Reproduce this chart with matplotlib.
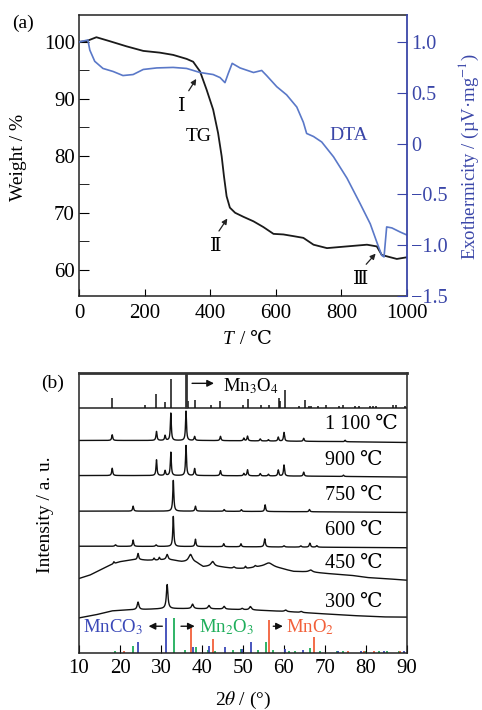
import numpy as np
import matplotlib
matplotlib.use('Agg')
import matplotlib.pyplot as plt
from matplotlib.ticker import MultipleLocator

plt.rcParams['font.family'] = ['Liberation Serif', 'DejaVu Serif', 'Noto Sans CJK SC']
plt.rcParams['mathtext.fontset'] = 'stix'

# ---------------- Panel (a) data: TG / DTA ----------------
tg_T = [0, 22, 53, 94, 145, 196, 246, 287, 328, 348, 369, 389, 409, 424, 435, 442,
        450, 460, 476, 501, 532, 562, 593, 623, 654, 684, 715, 756, 796, 837, 878,
        908, 923, 949, 969, 1000]
tg_w = [100.0, 100.1, 100.8, 100.1, 99.2, 98.4, 98.1, 97.7, 97.0, 96.5, 94.8, 91.6,
        88.1, 84.0, 79.9, 76.4, 72.9, 70.9, 70.0, 69.3, 68.5, 67.5, 66.3, 66.2, 65.9,
        65.6, 64.4, 63.8, 64.0, 64.2, 64.4, 64.1, 62.6, 62.2, 61.9, 62.2]

dta_T = [0, 27, 33, 48, 73, 104, 134, 165, 196, 237, 287, 328, 369, 409, 430, 445,
         455, 467, 491, 532, 557, 572, 603, 633, 664, 684, 694, 715, 740, 776, 817,
         857, 888, 908, 923, 930, 938, 954, 979, 1000]
dta_v = [1.0, 1.02, 0.92, 0.81, 0.74, 0.71, 0.67, 0.68, 0.73, 0.745, 0.75, 0.74,
         0.70, 0.68, 0.65, 0.60, 0.69, 0.79, 0.745, 0.70, 0.72, 0.67, 0.56, 0.48,
         0.36, 0.21, 0.10, 0.07, 0.016, -0.13, -0.34, -0.59, -0.79, -0.97, -1.10,
         -1.115, -0.82, -0.83, -0.87, -0.90]

a_xticks = [0, 200, 400, 600, 800, 1000]
a_wticks = [60, 70, 80, 90, 100]
a_dticks = [1.0, 0.5, 0.0, -0.5, -1.0, -1.5]
a_dlabels = ['1.0', '0.5', '0', '\u22120.5', '\u22121.0', '\u22121.5']

# ---------------- Panel (b) data: XRD ----------------
# Mn3O4 reference sticks (2theta, relative height)
mn3o4_pos = [18.1, 26.0, 28.9, 31.0, 32.4, 36.6, 38.2, 42.3, 44.5, 50.1, 51.1, 54.3,
             56.4, 58.7, 59.0, 60.3, 63.7, 65.2, 66.0, 66.6, 68.2, 70.3, 73.3, 74.5,
             77.4, 78.2, 80.9, 81.7, 82.5, 86.7, 87.4, 89.6]
mn3o4_h = [10, 3.3, 14.3, 6.3, 29, 7, 8.3, 3.3, 7.3, 3.3, 9, 3.3, 3, 10, 6.7, 17.7,
           2.3, 7.7, 2.3, 2.3, 2.3, 3, 2.3, 3, 2.3, 2.3, 2.3, 2.3, 2.3, 2.7, 2.7, 2.3]
mn3o4_main = 36.2

# Measured patterns: peaks (position, height, fwhm) and baseline knots
samples = ['1 100 \u2103', '900 \u2103', '750 \u2103', '600 \u2103', '450 \u2103', '300 \u2103']

p1100_peaks = [(18.1, 5.7, 0.3), (28.9, 9, 0.3), (31.0, 5, 0.3), (32.4, 27.3, 0.28),
               (36.1, 29.3, 0.28), (38.2, 4, 0.3), (44.5, 4.3, 0.3), (50.2, 2.7, 0.3),
               (51.1, 4.7, 0.3), (54.2, 2, 0.3), (56.2, 1.3, 0.3), (58.6, 4, 0.3),
               (60.0, 8.7, 0.3), (64.8, 3, 0.3), (74.9, 1.5, 0.3)]
p1100_base_x = [10, 40, 70, 90]
p1100_base_y = [0, 0, -1, -2]

p900_peaks = [(18.1, 7.3, 0.3), (28.9, 15.7, 0.28), (31.0, 5, 0.3), (32.4, 23.3, 0.28),
              (36.1, 30, 0.28), (38.2, 7, 0.3), (44.5, 5, 0.3), (50.2, 2.3, 0.3),
              (51.1, 6, 0.3), (54.2, 2.3, 0.3), (56.2, 1.7, 0.3), (58.6, 6, 0.3),
              (60.0, 11, 0.3), (64.8, 4, 0.3), (74.5, 1.3, 0.3)]
p900_base_x = [10, 40, 70, 90]
p900_base_y = [0, 0, -0.7, -1.5]

p750_peaks = [(23.2, 5, 0.3), (33.0, 30.7, 0.3), (38.4, 5, 0.3), (45.4, 1.7, 0.3),
              (49.6, 1.7, 0.3), (55.4, 6.7, 0.3), (66.2, 2.3, 0.3)]
p750_base_x = [10, 40, 70, 90]
p750_base_y = [0, 0, -0.7, -1.3]

p600_peaks = [(18.9, 1.5, 0.4), (23.2, 6.3, 0.3), (28.8, 1.5, 0.4), (33.0, 30, 0.3),
              (38.4, 7.3, 0.3), (45.3, 3.0, 0.3), (49.5, 3.0, 0.3), (55.3, 8, 0.35),
              (60.0, 1.2, 0.4), (64.1, 1.2, 0.4), (66.3, 4, 0.35), (68.0, 1.5, 0.4)]
p600_base_x = [10, 40, 70, 90]
p600_base_y = [0, -0.3, -1.0, -1.5]

p450_peaks = [(18.5, 2, 0.3), (24.4, 6, 0.35), (28.3, 2, 0.3), (29.6, 2.5, 0.3),
              (31.5, 5, 0.5), (37.2, 7.5, 1.1), (42.6, 4.5, 0.9), (47.8, 1.5, 0.6),
              (50.6, 2, 0.3), (53.0, 1.5, 0.5), (56.3, 4, 2.5), (66.5, 2, 1.0)]
p450_base_x = [10, 12.6, 15.1, 17.5, 19.9, 22.4, 24.4, 26.5, 28.9, 31.3, 33.0, 35.0,
               37.2, 38.7, 40.3, 42.3, 44.4, 47.6, 50.9, 54.2, 56.4, 59.0, 62.3, 66.4,
               70.4, 76.2, 80.2, 84.3, 90]
p450_base_y = [0, 3.3, 8.3, 13.3, 16.7, 18.3, 19, 18.3, 18.3, 19, 18.3, 16.7, 16.5,
               15.5, 11.7, 12.5, 11.7, 10, 10, 11.5, 11.5, 10, 7, 6.5, 5, 3.3, 1, 0, -1.7]

p300_peaks = [(24.4, 7.5, 0.5), (31.5, 24, 0.45), (37.7, 4.5, 0.55), (41.7, 3.3, 0.55),
              (45.4, 2.7, 0.5), (49.8, 1.2, 0.5), (51.8, 3.3, 0.6), (60.4, 1.5, 0.6),
              (64.2, 1.0, 0.6)]
p300_base_x = [10, 14, 18, 22, 26, 31, 36, 44, 52, 60, 68, 76, 84, 90]
p300_base_y = [0, 3, 7, 8, 8.5, 9.3, 9.3, 9, 8, 6.5, 4.5, 2.5, 1, 0.8]

# Reference sticks at the bottom
mnco3_pos = [24.3, 31.3, 37.9, 41.7, 45.6, 49.8, 51.9, 60.3, 64.6, 73.1, 78.8, 84.3, 89.2]
mnco3_h = [11, 35, 6, 6.7, 6, 4.3, 11, 4, 2.7, 2, 1.7, 2, 1.7]
mn2o3_pos = [18.7, 23.2, 33.1, 35.8, 38.5, 41.4, 43.2, 47.6, 49.4, 53.7, 55.5, 57.4,
             61.1, 62.7, 66.4, 68.8, 72.9, 74.5, 79.8, 83.1, 85.1, 88.0]
mn2o3_h = [2, 6.7, 35, 2.7, 6, 3.3, 2, 2.7, 4.3, 2.7, 11, 2.7, 2, 2, 5.3, 2, 2, 2,
           2, 1.7, 1.7, 1.7]
mno2_pos = [21.0, 37.3, 42.7, 56.4, 67.2, 75.7, 79.4, 81.9, 88.4]
mno2_h = [1.5, 26, 13.7, 32.7, 16, 1.5, 2, 2, 2]

b_xticks = [10, 20, 30, 40, 50, 60, 70, 80, 90]

# ---------------- Styles / layout ----------------
C_TG = '#1a1a1a'
C_DTA = '#5a78c8'
C_RAX = '#3a46a8'
C_BLUE = '#3a48b8'
C_GREEN = '#1fae5b'
C_RED = '#f2603a'

fig = plt.figure(figsize=(4.82, 7.10), dpi=100)

# ===== Panel (a) =====
ax = fig.add_axes([79/482, 1-296/710, 328/482, 281/710])
ax.plot(tg_T, tg_w, color=C_TG, lw=1.3, zorder=3)
ax.set_xlim(0, 1000)
ax.set_ylim(55.4, 104.7)
ax.set_xticks(a_xticks)
ax.set_yticks(a_wticks)
ax.yaxis.set_minor_locator(MultipleLocator(5))
ax.tick_params(axis='both', which='both', direction='in', labelsize=15, pad=3)
ax.tick_params(axis='y', which='major', length=7)
ax.tick_params(axis='y', which='minor', length=7)
ax.tick_params(axis='x', which='major', length=5, pad=6)
for s in ['left', 'bottom', 'top']:
    ax.spines[s].set_color('#222222')
    ax.spines[s].set_linewidth(1.1)
ax.spines['right'].set_visible(False)

ax2 = ax.twinx()
ax2.plot(dta_T, dta_v, color=C_DTA, lw=1.2, zorder=2)
ax2.set_ylim(-1.5, 1.266)
ax2.set_yticks(a_dticks)
ax2.set_yticklabels(a_dlabels)
ax2.tick_params(axis='y', direction='in', length=7, colors=C_RAX, labelsize=14.5, pad=3)
ax2.spines['right'].set_color(C_RAX)
ax2.spines['right'].set_linewidth(1.3)
for s in ['left', 'bottom', 'top']:
    ax2.spines[s].set_visible(False)

ax.text(314, 88.8, '\u2160', fontsize=14, ha='center', va='center',
        family=['DejaVu Serif'])
ax.annotate('', xy=(362, 93.9), xytext=(330, 91.0),
            arrowprops=dict(arrowstyle='-|>', color='#222', lw=0.9, mutation_scale=8))
ax.text(364, 83.3, 'TG', fontsize=14, ha='center', va='center')
ax.text(418, 64.2, '\u2161', fontsize=14, ha='center', va='center',
        family=['DejaVu Serif'])
ax.annotate('', xy=(457, 69.4), xytext=(422, 66.4),
            arrowprops=dict(arrowstyle='-|>', color='#222', lw=0.9, mutation_scale=8))
ax.text(858, 58.4, '\u2162', fontsize=14, ha='center', va='center',
        family=['DejaVu Serif'])
ax.annotate('', xy=(910, 63.2), xytext=(870, 60.6),
            arrowprops=dict(arrowstyle='-|>', color='#222', lw=0.9, mutation_scale=8))
ax.text(822, 83.6, 'DTA', fontsize=14, ha='center', va='center', color=C_RAX)

fig.text(23/482, 1-23/710, '(a)', fontsize=14, ha='center', va='center')
fig.text(19/482, 1-157/710, 'Weight / %', fontsize=14, rotation=90,
         ha='center', va='center')
fig.text(234/482, 1-339/710, 'T', fontsize=14, style='italic', ha='right', va='center')
fig.text(235/482, 1-339/710, ' / \u2103', fontsize=14, ha='left', va='center')
fig.text(469/482, 1-157/710, 'Exothermicity / (\u00b5V\u00b7mg$^{-1}$)', fontsize=13.5,
         rotation=90, ha='center', va='center', color=C_RAX)

# ===== Panel (b) =====
bx = fig.add_axes([79/482, 1-653/710, 328/482, 280/710])
bx.set_xlim(10, 90)
bx.set_ylim(0, 279.3)

# stacking offsets (axis units)
off_mn3o4 = 244.3
offsets = [212, 177, 141.5, 106.5, 74.3, 35]
pattern_list = [(p1100_peaks, p1100_base_x, p1100_base_y),
                (p900_peaks, p900_base_x, p900_base_y),
                (p750_peaks, p750_base_x, p750_base_y),
                (p600_peaks, p600_base_x, p600_base_y),
                (p450_peaks, p450_base_x, p450_base_y),
                (p300_peaks, p300_base_x, p300_base_y)]

xg = np.linspace(10, 90, 6000)
for (peaks, bxk, byk), off, lab in zip(pattern_list, offsets, samples):
    y = np.interp(xg, bxk, byk)
    for pos, h, w in peaks:
        g = (w / 2) ** 2
        y = y + h * g / ((xg - pos) ** 2 + g)
    bx.plot(xg, y + off, color='#111111', lw=1.0)
    bx.text(70.0, off + 15.5, lab, fontsize=14.5, ha='left', va='center')

# Mn3O4 reference
bx.axhline(off_mn3o4, color='#222222', lw=1.1)
bx.vlines(mn3o4_pos, off_mn3o4, off_mn3o4 + np.array(mn3o4_h), color='#111111', lw=1.1)
bx.vlines([mn3o4_main], off_mn3o4, 279.3, color='#333333', lw=2.0)
bx.annotate('', xy=(43.6, 269), xytext=(36.9, 269),
            arrowprops=dict(arrowstyle='-|>', color='#111', lw=1.0, mutation_scale=10))
bx.text(45.0, 266, 'Mn$_3$O$_4$', fontsize=13.5, ha='left', va='center')

# bottom references
bx.vlines(mn2o3_pos, 0, mn2o3_h, color=C_GREEN, lw=1.3)
bx.vlines(mno2_pos, 0, mno2_h, color=C_RED, lw=1.3)
bx.vlines(mnco3_pos, 0, mnco3_h, color=C_BLUE, lw=1.3)
bx.annotate('', xy=(26.3, 26.7), xytext=(31.0, 26.7),
            arrowprops=dict(arrowstyle='-|>', color='#111', lw=1.0, mutation_scale=10))
bx.text(11.0, 25.3, 'MnCO$_3$', fontsize=13.5, ha='left', va='center', color=C_BLUE)
bx.annotate('', xy=(38.9, 26.7), xytext=(34.2, 26.7),
            arrowprops=dict(arrowstyle='-|>', color='#111', lw=1.0, mutation_scale=10))
bx.text(39.3, 25.3, 'Mn$_2$O$_3$', fontsize=13.5, ha='left', va='center', color=C_GREEN)
bx.annotate('', xy=(60.4, 26.7), xytext=(56.7, 26.7),
            arrowprops=dict(arrowstyle='-|>', color='#111', lw=1.0, mutation_scale=10))
bx.text(60.5, 25.3, 'MnO$_2$', fontsize=13.5, ha='left', va='center', color=C_RED)

bx.set_xticks(b_xticks)
bx.set_yticks([])
bx.tick_params(axis='x', direction='in', length=6, labelsize=15, pad=4)
for s in ['left', 'bottom', 'right']:
    bx.spines[s].set_color('#222222')
    bx.spines[s].set_linewidth(1.1)
bx.spines['top'].set_color('#333333')
bx.spines['top'].set_linewidth(2.0)

fig.text(53/482, 1-383/710, '(b)', fontsize=14, ha='center', va='center')
fig.text(45/482, 1-515/710, 'Intensity / a. u.', fontsize=14, rotation=90,
         ha='center', va='center')
fig.text(243/482, 1-700/710, '2$\\theta$ / (\u00b0)', fontsize=14, ha='center', va='center')

fig.savefig('out.png', dpi=100)
